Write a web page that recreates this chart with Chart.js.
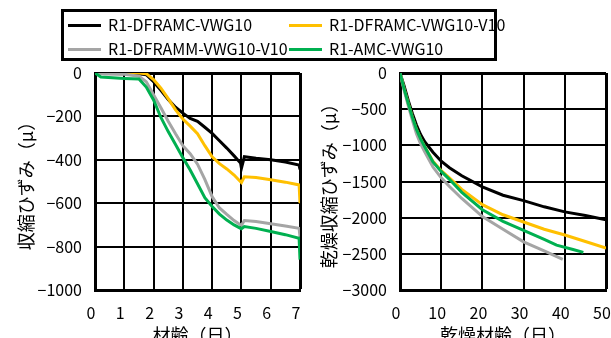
<!DOCTYPE html>
<html>
<head>
<meta charset="utf-8">
<script src="https://cdn.jsdelivr.net/npm/chart.js@4/dist/chart.umd.min.js"></script>
<style>
html, body { margin:0; padding:0; width:611px; height:338px; overflow:hidden; background:#fff; }
canvas { position:absolute; left:0; top:0; }
#legend { position:absolute; left:61px; top:9px; width:430px; height:46px; border:3px solid #000; background:#fff;
  font-family:"Noto Sans CJK JP"; font-size:16px; color:#000; z-index:2; }
.item { position:absolute; height:20px; line-height:20px; white-space:nowrap; }
.item i { display:inline-block; width:33px; height:3px; vertical-align:middle; margin-right:7px; margin-top:-2px; }
</style>
</head>
<body>
<canvas id="c1" width="611" height="360"></canvas>
<canvas id="c2" width="611" height="360"></canvas>
<div id="legend"></div>
<script>
// series
var names = ['R1-DFRAMC-VWG10', 'R1-DFRAMC-VWG10-V10', 'R1-DFRAMM-VWG10-V10', 'R1-AMC-VWG10'];
var colors = ['#000000', '#FFC000', '#A5A5A5', '#00B050'];

// left chart: age (days) vs shrinkage strain
var age = [0, 0.2, 1.0, 1.5, 1.75, 2.0, 2.25, 2.5, 2.75, 3.0, 3.25, 3.5, 3.75, 4.0, 4.25, 4.5, 4.75, 4.97, 5.0, 5.1, 5.5, 6.0, 6.5, 6.97, 7.0];
var age_s1 = [0, -2, -3, -4, -8, -40, -80, -122, -158, -185, -209, -223, -250, -278, -312, -346, -382, -415, -439, -386, -393, -400, -410, -424, -445];
var age_s2 = [0, 0, 0, 0, -3, -30, -70, -118, -170, -212, -245, -280, -335, -386, -418, -442, -470, -501, -505, -478, -482, -492, -503, -516, -600];
var age_s3 = [0, -4, -6, -15, -40, -100, -160, -222, -280, -335, -372, -420, -490, -570, -622, -652, -680, -700, -702, -680, -684, -695, -705, -716, -755];
var age_s4 = [0, -18, -25, -28, -65, -124, -205, -270, -330, -390, -447, -510, -575, -615, -650, -678, -700, -716, -718, -708, -716, -730, -745, -762, -860];

// right chart: drying age (days) vs drying shrinkage strain
var dry1 = [0, 1, 2, 3, 4, 5, 6, 8, 10, 12, 15, 20, 25, 30, 35, 40, 45, 50];
var dry_s1 = [0, -180, -380, -560, -720, -850, -950, -1095, -1220, -1310, -1420, -1575, -1690, -1765, -1850, -1920, -1970, -2030];
var dry2 = [0, 1, 2, 3, 4, 5, 6, 8, 10, 12, 15, 20, 25, 30, 35, 40, 45, 50];
var dry_s2 = [0, -220, -420, -610, -780, -910, -1020, -1220, -1350, -1450, -1610, -1820, -1960, -2060, -2160, -2240, -2330, -2420];
var dry3 = [0, 1, 2, 3, 4, 5, 6, 8, 10, 12, 15, 20, 25, 30, 35, 39.5];
var dry_s3 = [0, -240, -450, -650, -840, -980, -1090, -1300, -1450, -1570, -1735, -1985, -2160, -2335, -2460, -2575];
var dry4 = [0, 1, 2, 3, 4, 5, 6, 8, 10, 12, 15, 20, 25, 30, 35, 38, 42, 44.5];
var dry_s4 = [0, -220, -420, -610, -780, -910, -1020, -1230, -1360, -1470, -1650, -1890, -2050, -2175, -2300, -2380, -2440, -2480];

// ticks
var ageTicks = [0, 1, 2, 3, 4, 5, 6, 7];
var strainTicks = [0, -200, -400, -600, -800, -1000];
var dryTicks = [0, 10, 20, 30, 40, 50];
var dryStrainTicks = [0, -500, -1000, -1500, -2000, -2500, -3000];

var FONT = 'Noto Sans CJK JP';

function pts(xs, ys){
	var out = [];
	for (var i = 0; i < xs.length; i++) out.push({x: xs[i], y: ys[i]});
	return out;
}

function sets(list){
	return list.map(function(p, i){
		return {
			label: names[i],
			data: pts(p[0], p[1]),
			borderColor: colors[i],
			backgroundColor: colors[i],
			borderWidth: 3,
			pointRadius: 0,
			tension: 0,
			fill: false,
			order: 4 - i
		};
	});
}

function fmt(v){
	return v < 0 ? '\u2212' + Math.abs(v) : String(v);
}

function axes(xt, yt, xTitle, yTitle){
	var xmax = xt[xt.length-1], ymin = yt[yt.length-1];
	return {
		x: {
			type: 'linear', min: xt[0], max: xmax,
			afterBuildTicks: function(s){ s.ticks = xt.map(function(v){ return {value: v}; }); },
			afterFit: function(s){ s.height = 56; s.paddingLeft = 0; s.paddingRight = 0; },
			ticks: { font: {family: FONT, size: 16}, color: '#000', padding: 13, labelOffset: -4, maxRotation: 0, callback: fmt },
			grid: { color: '#000', drawTicks: false, lineWidth: function(c){ return c.tick && c.tick.value === xmax ? 3 : 2; } },
			border: { color: '#000', width: 3 },
			title: { display: true, text: xTitle, color: '#000', font: {family: FONT, size: 18}, padding: {top: 0, bottom: 0} }
		},
		y: {
			min: ymin, max: yt[0],
			afterBuildTicks: function(s){ s.ticks = yt.map(function(v){ return {value: v}; }); },
			afterFit: function(s){ s.width = s.chart.canvas.id === 'c1' ? 95 : 97; },
			ticks: { font: {family: FONT, size: 16}, color: '#000', padding: 13, callback: fmt },
			grid: { color: '#000', drawTicks: false, lineWidth: function(c){ return c.tick && c.tick.value === 0 ? 3 : 2; } },
			border: { color: '#000', width: 3 },
			title: { display: true, text: yTitle, color: '#000', font: {family: FONT, size: 18}, padding: {top: 15, bottom: 0} }
		}
	};
}

function grafon(id, datasets, scales, pad){
	var ctx = document.getElementById(id).getContext('2d');
	return new Chart(ctx, {
		type: 'line',
		data: { datasets: datasets },
		options: {
			responsive: false,
			animation: false,
			layout: { padding: pad },
			plugins: { legend: { display: false }, tooltip: { enabled: false } },
			scales: scales
		}
	});
}

grafon('c1',
	sets([[age, age_s1], [age, age_s2], [age, age_s3], [age, age_s4]]),
	axes(ageTicks, strainTicks, '材齢（日）', '収縮ひずみ（μ）'),
	{left: 0, right: 311, top: 73, bottom: 14});

grafon('c2',
	sets([[dry1, dry_s1], [dry2, dry_s2], [dry3, dry_s3], [dry4, dry_s4]]),
	axes(dryTicks, dryStrainTicks, '乾燥材齢（日）', '乾燥収縮ひずみ（μ）'),
	{left: 303, right: 5, top: 73, bottom: 14});

// legend
var lg = document.getElementById('legend');
var spots = [[4, 2], [225, 2], [4, 26], [225, 26]];
names.forEach(function(n, i){
	var d = document.createElement('div');
	d.className = 'item';
	d.style.left = spots[i][0] + 'px';
	d.style.top = spots[i][1] + 'px';
	d.innerHTML = '<i style="background:' + colors[i] + '"></i>' + n;
	lg.appendChild(d);
});
</script>
</body>
</html>
